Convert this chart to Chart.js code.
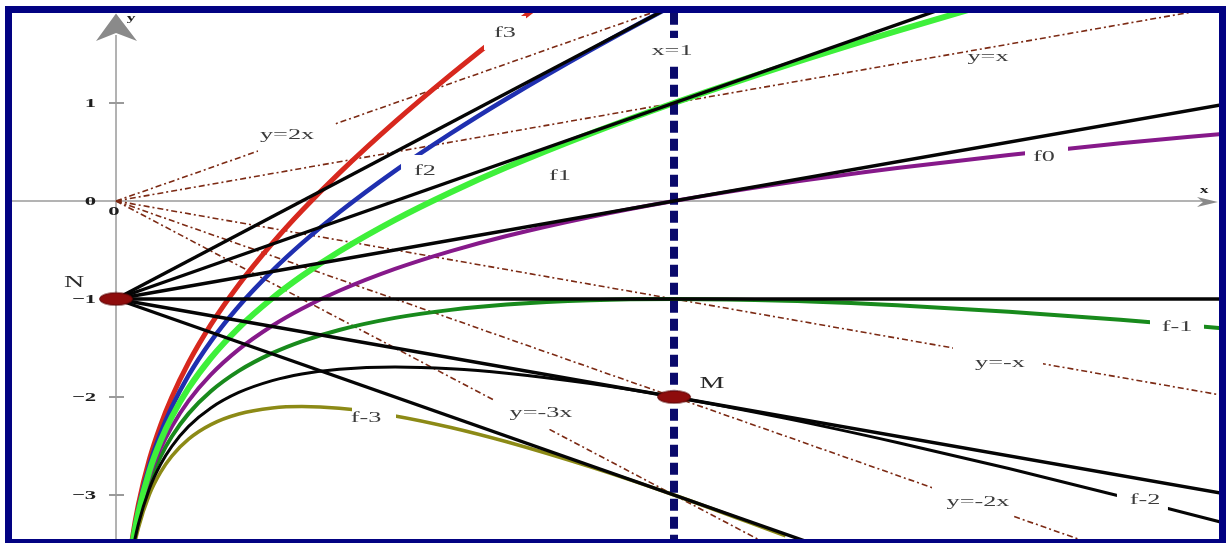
<!DOCTYPE html>
<html>
<head>
<meta charset="utf-8">
<script src="https://cdn.jsdelivr.net/npm/chart.js@4.4.1/dist/chart.umd.min.js"></script>
<style>
html,body{margin:0;padding:0;background:#fff;}
#frame{position:absolute;left:5px;top:6px;width:1221px;height:537px;box-sizing:border-box;border:7px solid #020282;border-bottom-width:4px;background:#fff;}
#plot{position:absolute;left:0;top:0;}
</style>
</head>
<body>
<div id="frame"><canvas id="plot" width="1207" height="526"></canvas></div>
<script>
// Family f_k(x) = kx + ln x, sampled at these abscissas
const sampleX   = [0.02, 0.03, 0.04, 0.06, 0.08, 0.1, 0.13, 0.17, 0.22, 0.28, 0.333, 0.4, 0.5, 0.6, 0.7, 0.85, 1.0, 1.2, 1.4, 1.6, 1.8, 1.98];
const f3Values  = [-3.852, -3.417, -3.099, -2.633, -2.286, -2.003, -1.650, -1.262, -0.854, -0.433, -0.100, 0.284, 0.807, 1.289, 1.743, 2.387];
const f2Values  = [-3.872, -3.447, -3.139, -2.693, -2.366, -2.103, -1.780, -1.432, -1.074, -0.713, -0.433, -0.116, 0.307, 0.689, 1.043, 1.537, 2.0, 2.582];
const f1Values  = [-3.892, -3.477, -3.179, -2.753, -2.446, -2.203, -1.910, -1.602, -1.294, -0.993, -0.766, -0.516, -0.193, 0.089, 0.343, 0.687, 1.0, 1.382, 1.736, 2.070];
const f0Values  = [-3.912, -3.507, -3.219, -2.813, -2.526, -2.303, -2.040, -1.772, -1.514, -1.273, -1.099, -0.916, -0.693, -0.511, -0.357, -0.163, 0, 0.182, 0.336, 0.470, 0.588, 0.683];
const fm1Values = [-3.932, -3.537, -3.259, -2.873, -2.606, -2.403, -2.170, -1.942, -1.734, -1.553, -1.432, -1.316, -1.193, -1.111, -1.057, -1.013, -1.0, -1.018, -1.064, -1.130, -1.212, -1.297];
const fm2Values = [-3.952, -3.567, -3.299, -2.933, -2.686, -2.503, -2.300, -2.112, -1.954, -1.833, -1.765, -1.716, -1.693, -1.711, -1.757, -1.863, -2.0, -2.218, -2.464, -2.730, -3.012, -3.277];
const fm3Values = [-3.972, -3.597, -3.339, -2.993, -2.766, -2.603, -2.430, -2.282, -2.174, -2.113, -2.098, -2.116, -2.193, -2.311, -2.457, -2.713, -3.0, -3.418];

// Tangent lines at x = 1, all through N(0,-1)
const pointN = [0, -1];
const pointM = [1, -2];
const tangentEnds = [[1.0, 2.0], [1.98, 2.96], [1.98, 0.98], [1.98, -1.0], [1.98, -2.98], [1.3, -3.6]];

// Asymptotic directions y = kx from the origin
const origin = [0, 0];
const asymptoteEnds = [[1.0, 2.0], [1.98, 1.98], [1.98, -1.98], [1.75, -3.5], [1.17, -3.51]];

// Vertical line x = 1
const verticalLine = [[1, 1.92], [1, -3.45]];

// Axis ticks
const yTicks = [1, 0, -1, -2, -3];
const yTickLabels = ['1', '0', '\u22121', '\u22122', '\u22123'];

// Text labels: anchor in data units, white backing box in px around the anchor
const labels = [
  { text: 'y=2x',  x: 0.3065, y: 0.6735,  box: [-29, -11, 47, 17] },
  { text: 'f3',    x: 0.6971, y: 1.7143,  box: [-21, -17, 21, 17] },
  { text: 'x=1',   x: 0.9964, y: 1.5306,  box: [-22, -13, 23, 13] },
  { text: 'y=x',   x: 1.5627, y: 1.4694,  box: null },
  { text: 'f2',    x: 0.5538, y: 0.3061,  box: [-24, -16, 15, 9] },
  { text: 'f1',    x: 0.7957, y: 0.2551,  box: [-12, -8, 12, 8] },
  { text: 'f0',    x: 1.6631, y: 0.449,   box: [-19, -11, 24, 11] },
  { text: 'f-1',   x: 1.9014, y: -1.2857, box: [-27, -12, 27, 10] },
  { text: 'y=-x',  x: 1.5842, y: -1.6531, box: [-47, -20, 43, 9] },
  { text: 'y=-3x', x: 0.7616, y: -2.1633, box: [-46, -15, 37, 16] },
  { text: 'f-3',   x: 0.448,  y: -2.2143, box: [-14, -17, 30, 10] },
  { text: 'y=-2x', x: 1.5448, y: -3.0714, box: [-46, -18, 35, 18] },
  { text: 'f-2',   x: 1.844,  y: -3.051,  box: [-28, -13, 23, 16] }
];
const pointLabels = [
  { text: 'M', x: 1.068,   y: -1.867 },
  { text: 'N', x: -0.0753, y: -0.8367 }
];

const SERIF = "'Liberation Serif','Times New Roman',serif";
const STRETCH = 1.75;

function toXY(pairs) { return pairs.map(p => ({ x: p[0], y: p[1] })); }

function curve(values, color, width, order) {
  return {
    data: values.map((v, i) => ({ x: sampleX[i], y: v })),
    borderColor: color, borderWidth: width, pointRadius: 0,
    cubicInterpolationMode: 'monotone', fill: false, order
  };
}
function segment(a, b, color, width, dash, order) {
  return {
    data: toXY([a, b]), borderColor: color, borderWidth: width,
    borderDash: dash || [], pointRadius: 0, tension: 0, fill: false, order
  };
}

// Elliptic marker for N and M
const dot = document.createElement('canvas');
dot.width = 36; dot.height = 15;
(function () {
  const c = dot.getContext('2d');
  c.beginPath();
  c.ellipse(18, 7.5, 16.5, 6.2, 0, 0, Math.PI * 2);
  c.fillStyle = '#8e0c0c';
  c.fill();
  c.lineWidth = 1;
  c.strokeStyle = '#5a0505';
  c.stroke();
})();

const BROWN = '#7c2a14';
const DASHDOT = [6, 3, 2, 3];

const datasets = [];
datasets.push({ data: toXY([pointN, pointM]), showLine: false, pointStyle: dot, pointRadius: 10, order: 0 });
tangentEnds.forEach(e => datasets.push(segment(pointN, e, '#050505', 3.4, null, 1)));
datasets.push(segment(verticalLine[0], verticalLine[1], '#0a0a6c', 8, [12, 6], 2));
datasets.push(curve(fm2Values, '#050505', 3, 3));
datasets.push(curve(f1Values, '#3ef03a', 6, 4));
datasets.push(curve(f2Values, '#1f2fb0', 4.5, 5));
datasets.push(curve(f3Values, '#d7281e', 5, 6));
datasets.push(curve(f0Values, '#86198a', 4, 5));
datasets.push(curve(fm1Values, '#188a1c', 4, 5));
datasets.push(curve(fm3Values, '#8c8a16', 3.5, 5));
asymptoteEnds.forEach(e => datasets.push(segment(origin, e, BROWN, 1.6, DASHDOT, 8)));

function stretchedText(ctx, text, px, py, font, color, align) {
  ctx.save();
  ctx.translate(px, py);
  ctx.scale(STRETCH, 1);
  ctx.font = font;
  ctx.fillStyle = color;
  ctx.textAlign = align;
  ctx.textBaseline = 'middle';
  ctx.fillText(text, 0, 0);
  ctx.restore();
}

const decor = {
  id: 'decor',
  beforeDatasetsDraw(chart) {
    const { ctx, chartArea: a, scales: { x, y } } = chart;
    const X0 = x.getPixelForValue(0), Y0 = y.getPixelForValue(0);
    ctx.save();
    ctx.strokeStyle = '#9a9a9a';
    ctx.lineWidth = 1.5;
    ctx.beginPath();
    ctx.moveTo(X0, a.bottom); ctx.lineTo(X0, a.top + 22);
    ctx.moveTo(a.left, Y0); ctx.lineTo(a.right - 12, Y0);
    ctx.stroke();
    ctx.lineWidth = 2;
    ctx.beginPath();
    yTicks.forEach(v => {
      if (v === 0) return;
      const py = y.getPixelForValue(v);
      ctx.moveTo(X0 - 7, py); ctx.lineTo(X0 + 8, py);
    });
    ctx.stroke();
    ctx.fillStyle = '#8a8a8a';
    ctx.beginPath();
    ctx.moveTo(X0, a.top + 0.5);
    ctx.lineTo(X0 - 20, a.top + 28);
    ctx.lineTo(X0, a.top + 20);
    ctx.lineTo(X0 + 21, a.top + 28);
    ctx.closePath();
    ctx.fill();
    ctx.beginPath();
    ctx.moveTo(a.right - 1, Y0 + 1);
    ctx.lineTo(a.right - 22, Y0 - 4);
    ctx.lineTo(a.right - 16, Y0 + 1);
    ctx.lineTo(a.right - 22, Y0 + 6);
    ctx.closePath();
    ctx.fill();
    ctx.restore();
  },
  afterDatasetsDraw(chart) {
    const { ctx, chartArea: a, scales: { x, y } } = chart;
    const X0 = x.getPixelForValue(0), Y0 = y.getPixelForValue(0);
    labels.forEach(l => {
      const px = x.getPixelForValue(l.x), py = y.getPixelForValue(l.y);
      if (l.box) {
        ctx.fillStyle = '#fff';
        ctx.fillRect(px + l.box[0], py + l.box[1], l.box[2] - l.box[0], l.box[3] - l.box[1]);
      }
      stretchedText(ctx, l.text, px, py, '15px ' + SERIF, '#3c3c3c', 'center');
    });
    pointLabels.forEach(l => {
      stretchedText(ctx, l.text, x.getPixelForValue(l.x), y.getPixelForValue(l.y), '16px ' + SERIF, '#2a2a2a', 'center');
    });
    yTicks.forEach((v, i) => {
      stretchedText(ctx, yTickLabels[i], X0 - 20, y.getPixelForValue(v) + 1, 'bold 13px ' + SERIF, '#1e1e1e', 'right');
    });
    stretchedText(ctx, '0', X0 - 2, Y0 + 11, 'bold 13px ' + SERIF, '#1e1e1e', 'center');
    stretchedText(ctx, 'y', X0 + 15, a.top + 5, 'bold 10px ' + SERIF, '#1e1e1e', 'center');
    stretchedText(ctx, 'x', a.right - 15, Y0 - 11, 'bold 10px ' + SERIF, '#1e1e1e', 'center');
  }
};

new Chart(document.getElementById('plot'), {
  type: 'line',
  data: { datasets },
  options: {
    responsive: false,
    devicePixelRatio: 1,
    animation: false,
    events: [],
    layout: { padding: 0, autoPadding: false },
    plugins: { legend: { display: false }, tooltip: { enabled: false } },
    scales: {
      x: { type: 'linear', min: -0.1864, max: 1.9767, display: false },
      y: { type: 'linear', min: -3.449, max: 1.918, display: false }
    }
  },
  plugins: [decor]
});
</script>
</body>
</html>
